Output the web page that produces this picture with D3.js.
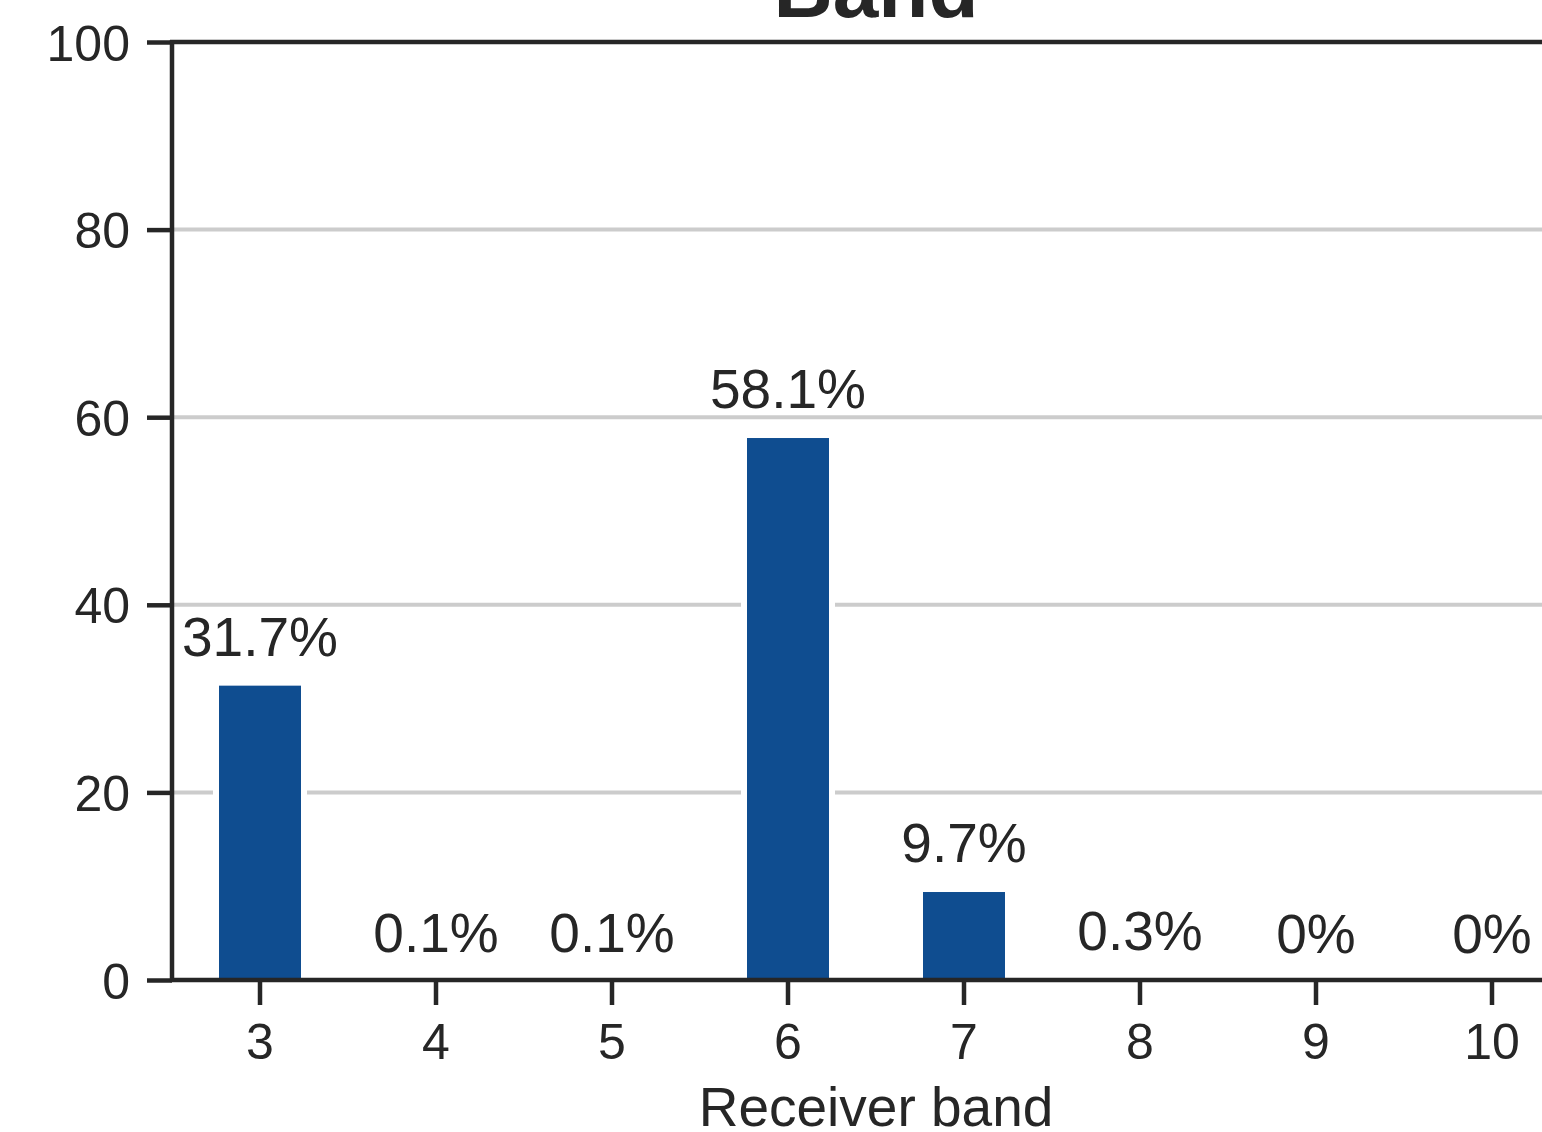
<!DOCTYPE html>
<html>
<head>
<meta charset="utf-8">
<script src="https://cdn.jsdelivr.net/npm/d3@7"></script>
<style>
  html, body { margin: 0; padding: 0; background: #fff; }
  svg { display: block; }
  text { font-family: "Liberation Sans", Arial, Helvetica, sans-serif; fill: #262626; }
</style>
</head>
<body>
<svg id="chart" width="1542" height="1132"></svg>
<script>
const categories = ["3", "4", "5", "6", "7", "8", "9", "10"];
const values = [31.7, 0.1, 0.1, 58.1, 9.7, 0.3, 0, 0];
const valueLabels = ["31.7%", "0.1%", "0.1%", "58.1%", "9.7%", "0.3%", "0%", "0%"];
const yTicks = [0, 20, 40, 60, 80, 100];
const title = "Band";
const xTitle = "Receiver band";

(function () {
const svg = d3.select("#chart");
const mLeft = 172, mRight = 1580, mTop = 42, mBottom = 980;
const ink = "#262626";
const lw = 4.5;

const x = d3.scaleBand().domain(categories).range([mLeft, mRight]).paddingInner(0.5).paddingOuter(0.25);
const y = d3.scaleLinear().domain([0, 100]).range([mBottom, mTop]);

// gridlines
svg.append("g").selectAll("line").data(yTicks.filter(t => t > 0 && t < 100)).join("line")
  .attr("x1", mLeft).attr("x2", mRight)
  .attr("y1", d => y(d)).attr("y2", d => y(d))
  .attr("stroke", "#cccccc").attr("stroke-width", 4);

// bars (white edge like the reference; bottom tucked under the spine)
svg.append("g").selectAll("rect").data(values).join("rect")
  .attr("x", (d, i) => x(categories[i]))
  .attr("width", x.bandwidth())
  .attr("y", d => y(d))
  .attr("height", d => y(0) - y(d) + 4)
  .attr("fill", "#0f4d90")
  .attr("stroke", "#ffffff")
  .attr("stroke-width", 6);

// value labels
svg.append("g").selectAll("text").data(values).join("text")
  .attr("x", (d, i) => x(categories[i]) + x.bandwidth() / 2)
  .attr("y", d => y(d) - 27)
  .attr("text-anchor", "middle")
  .attr("font-size", 55)
  .text((d, i) => valueLabels[i]);

// y axis
const yAxis = svg.append("g").attr("transform", `translate(${mLeft},0)`)
  .call(d3.axisLeft(y).tickValues(yTicks).tickSize(25).tickPadding(17).tickFormat(d3.format("d")));
yAxis.select(".domain").remove();
yAxis.selectAll(".tick line").attr("stroke", ink).attr("stroke-width", lw);
yAxis.selectAll(".tick text").attr("font-size", 50).attr("dy", null)
  .attr("y", 18).attr("fill", ink).style("font-family", "'Liberation Sans', Arial, sans-serif");

// x axis
const xAxis = svg.append("g").attr("transform", `translate(0,${mBottom})`)
  .call(d3.axisBottom(x).tickSize(25).tickPadding(10));
xAxis.select(".domain").remove();
xAxis.selectAll(".tick line").attr("stroke", ink).attr("stroke-width", lw);
xAxis.selectAll(".tick text").attr("font-size", 50).attr("dy", null)
  .attr("y", 79).attr("fill", ink).style("font-family", "'Liberation Sans', Arial, sans-serif");

// spines
svg.append("line").attr("x1", mLeft).attr("x2", mLeft).attr("y1", mTop - 2).attr("y2", mBottom + 2)
  .attr("stroke", ink).attr("stroke-width", lw);
svg.append("line").attr("x1", mLeft - 2).attr("x2", mRight).attr("y1", mTop).attr("y2", mTop)
  .attr("stroke", ink).attr("stroke-width", lw);
svg.append("line").attr("x1", mLeft - 2).attr("x2", mRight).attr("y1", mBottom).attr("y2", mBottom)
  .attr("stroke", ink).attr("stroke-width", lw);

// titles
svg.append("text").attr("x", (mLeft + mRight) / 2).attr("y", 17)
  .attr("text-anchor", "middle").attr("font-size", 82).attr("font-weight", "bold").text(title);
svg.append("text").attr("x", (mLeft + mRight) / 2).attr("y", 1126)
  .attr("text-anchor", "middle").attr("font-size", 55).text(xTitle);
})();
</script>
</body>
</html>
